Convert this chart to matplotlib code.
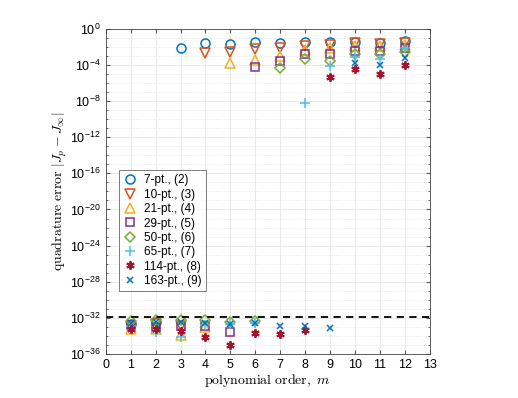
import numpy as np
import matplotlib
matplotlib.use("Agg")
import matplotlib.pyplot as plt
from matplotlib.ticker import FixedLocator, FuncFormatter

plt.rcParams["font.family"] = ["Liberation Sans", "DejaVu Sans"]
plt.rcParams["mathtext.fontset"] = "custom"
plt.rcParams["mathtext.rm"] = "Liberation Sans"
plt.rcParams["mathtext.it"] = "Liberation Sans:italic"
plt.rcParams["mathtext.bf"] = "Liberation Sans:bold"

# log10 of quadrature error, per series: (orders, values)
labels = ["7-pt., (2)", "10-pt., (3)", "21-pt., (4)", "29-pt., (5)",
          "50-pt., (6)", "65-pt., (7)", "114-pt., (8)", "163-pt., (9)"]

m_7 = [1, 2, 3, 4, 5, 6, 7, 8, 9, 10, 11, 12]
e_7 = [-32.7, -32.5, -2.1, -1.58, -1.66, -1.41, -1.52, -1.41, -1.48, -1.48, -1.55, -1.33]

m_10 = [1, 2, 3, 4, 5, 6, 7, 8, 9, 10, 11, 12]
e_10 = [-33.0, -32.7, -32.9, -2.69, -2.51, -2.21, -2.07, -1.88, -1.77, -1.58, -1.66, -1.52]

m_21 = [1, 2, 3, 4, 5, 6, 7, 8, 9, 10, 11, 12]
e_21 = [-33.2, -33.3, -33.9, -33.0, -3.8, -3.43, -2.99, -2.33, -2.14, -1.88, -1.88, -1.77]

m_29 = [1, 2, 3, 4, 5, 6, 7, 8, 9, 10, 11, 12]
e_29 = [-32.8, -33.0, -32.9, -32.9, -33.6, -4.24, -3.58, -2.77, -2.8, -2.44, -2.4, -2.1]

m_50 = [1, 2, 3, 4, 5, 6, 7, 8, 9, 10, 11, 12]
e_50 = [-32.4, -32.2, -32.3, -32.3, -32.5, -32.4, -4.35, -3.36, -3.54, -2.77, -2.8, -2.51]

m_65 = [1, 2, 3, 4, 5, 6, 8, 9, 10, 11, 12]
e_65 = [-32.9, -33.6, -34.1, -32.8, -32.7, -32.6, -8.23, -4.06, -3.13, -3.36, -2.14]

m_114 = [1, 2, 3, 4, 5, 6, 7, 8, 9, 10, 11, 12]
e_114 = [-33.3, -33.2, -33.5, -34.1, -35.0, -33.7, -33.8, -33.4, -5.35, -4.43, -5.02, -3.99]

m_163 = [1, 2, 3, 4, 5, 6, 7, 8, 9, 10, 11, 12]
e_163 = [-32.6, -32.5, -32.5, -32.6, -32.7, -32.6, -32.95, -32.9, -33.15, -3.73, -3.99, -3.18]

eps_level = -31.95

series = [(m_7, e_7), (m_10, e_10), (m_21, e_21), (m_29, e_29),
          (m_50, e_50), (m_65, e_65), (m_114, e_114), (m_163, e_163)]
colors = ["#0072BD", "#D95319", "#EDB120", "#7E2F8E",
          "#77AC30", "#4DBEEE", "#A2142F", "#0072BD"]
star = (6, 2, 0)
markers = ["o", "v", "^", "s", "D", "+", star, "x"]
sizes = [6.5, 6.5, 6.5, 5.5, 5.5, 6.5, 6, 5]

fig = plt.figure(figsize=(5.18, 3.98), dpi=100)
ax = fig.add_axes([0.204, 0.111, 0.626, 0.816])

for (m, e), lab, c, mk, s in zip(series, labels, colors, markers, sizes):
    ax.plot(m, 10.0 ** np.array(e), linestyle="none", marker=mk, ms=s,
            mfc="none", mec=c, mew=1.1 if mk != star else 1.4, label=lab)

ax.axhline(10.0 ** eps_level, color="black", ls=(0, (4, 3)), lw=1.3)

ax.set_yscale("log")
ax.set_xlim(0, 13)
ax.set_ylim(1e-36, 1e0)
ax.xaxis.set_major_locator(FixedLocator(range(0, 14)))
ax.yaxis.set_major_locator(FixedLocator([10.0 ** k for k in range(-36, 1, 4)]))
ax.yaxis.set_minor_locator(FixedLocator([10.0 ** k for k in range(-36, 1)]))
ax.yaxis.set_major_formatter(FuncFormatter(
    lambda v, p: r"$\mathdefault{10^{%d}}$" % int(round(np.log10(v)))))
ax.yaxis.set_minor_formatter(FuncFormatter(lambda v, p: ""))
ax.tick_params(direction="in", which="both", labelsize=9, length=3,
               color="#555555", top=True, right=True)
ax.tick_params(which="minor", length=1.5)
ax.grid(True, which="major", color="#e6e6e6", lw=0.6)
ax.grid(True, which="minor", axis="y", color="#dddddd", lw=0.6, ls=(0, (1, 2)))
ax.set_axisbelow(True)
for sp in ax.spines.values():
    sp.set_color("#444444")
    sp.set_linewidth(0.6)

ax.set_xlabel(r"$\mathrm{polynomial\ order,}\ m$", math_fontfamily="cm", fontsize=10,
              labelpad=1)
ax.set_ylabel(r"$\mathrm{quadrature\ error}\ |J_p - J_\infty|$", math_fontfamily="cm",
              fontsize=10, labelpad=1)

leg = ax.legend(loc="upper left", bbox_to_anchor=(0.04, 0.565), fontsize=8.5,
                frameon=True, fancybox=False, edgecolor="#444444",
                handlelength=1.2, handletextpad=0.6, borderpad=0.35,
                labelspacing=0.2, borderaxespad=0)
leg.get_frame().set_linewidth(0.6)

fig.savefig("out.png", dpi=100)
